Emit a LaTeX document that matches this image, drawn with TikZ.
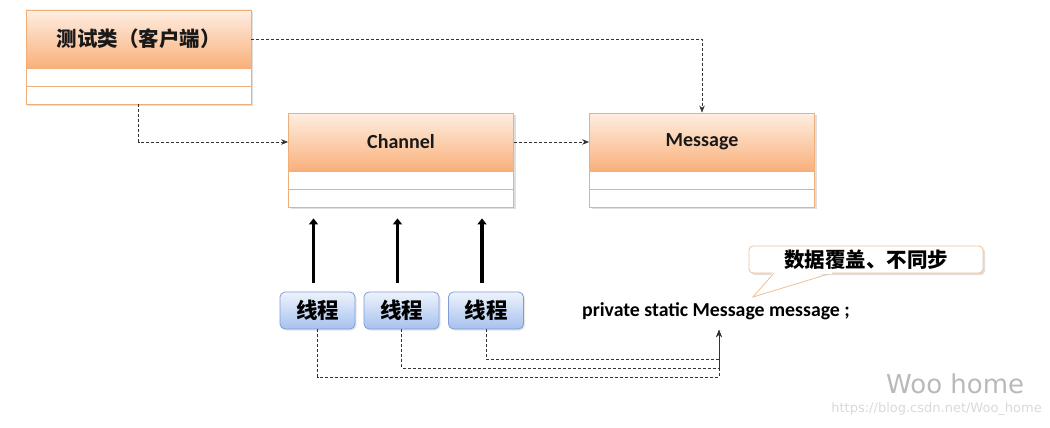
\documentclass[tikz,border=0pt]{standalone}
\usepackage{fontspec}
\setmainfont{Carlito}
\newfontfamily\cjk{Noto Sans CJK SC}
\newfontfamily\wm{DejaVu Sans}
\usetikzlibrary{arrows.meta,shadows,calc}
\definecolor{hdtop}{HTML}{FEEEE2}
\definecolor{hdbot}{HTML}{F9B07A}
\definecolor{orbd}{HTML}{F0AE78}
\definecolor{thtop}{HTML}{EEF3FC}
\definecolor{thbot}{HTML}{A6C1EE}
\definecolor{thbd}{HTML}{7E9DD6}
\tikzset{
  classbox/.style={draw=orbd, line width=0.8pt, fill=white, minimum width=225pt, inner sep=0pt,
    drop shadow={shadow xshift=2pt, shadow yshift=-2pt, opacity=0.25}},
  classhead/.style={draw=orbd, line width=0.8pt, top color=hdtop, bottom color=hdbot, minimum width=225pt,
    minimum height=58pt, inner sep=0pt, font=\bfseries\fontsize{20}{24}\selectfont, text=black!90},
  sep/.style={draw=orbd, line width=0.8pt},
  thread/.style={draw=thbd, line width=0.8pt, rounded corners=5pt, top color=thtop, bottom color=thbot,
    minimum width=75pt, minimum height=37pt, inner sep=0pt, font=\cjk\bfseries\fontsize{21.5}{24}\selectfont,
    drop shadow={shadow xshift=1.5pt, shadow yshift=-1.5pt, opacity=0.2}},
  dep/.style={densely dashed, line width=0.6pt, black!80, -{Stealth[length=7pt,width=5.5pt]}},
  bigarrow/.style={line width=3.5pt, black, -{Triangle[length=6pt,width=9pt]}},
  notebox/.style={draw=orbd!80, line width=0.8pt, fill=white, rounded corners=4pt,
    minimum width=234pt, minimum height=27pt, inner sep=0pt,
    drop shadow={shadow xshift=2pt, shadow yshift=-2pt, opacity=0.25},
    font=\cjk\bfseries\fontsize{20.5}{24}\selectfont},
  tail/.style={draw=orbd!80, line width=0.8pt},
}
\begin{document}
\begin{tikzpicture}[x=1pt,y=-1pt]
\useasboundingbox (0,0) rectangle (1050,428);
% Client class
\node[classbox, minimum height=94pt] (clientbox) at (138.5,57) {};
\node[classhead, anchor=north, font=\cjk\bfseries\fontsize{20.5}{24}\selectfont] (client) at (clientbox.north) {测试类（客户端）};
\draw[sep] (26,86) -- (251,86);
% Channel class
\node[classbox, minimum height=94pt] (channelbox) at (401,160) {};
\node[classhead, anchor=north] (channel) at (channelbox.north) {Channel};
\draw[sep] (288.5,189) -- (513.5,189);
% Message class
\node[classbox, minimum height=94pt] (messagebox) at (702,160) {};
\node[classhead, anchor=north] (message) at (messagebox.north) {Message};
\draw[sep] (589.5,189) -- (814.5,189);
% dependencies
\draw[dep] (client.east) -| (message.north);
\draw[dep] (clientbox.south) |- (channel.west);
\draw[dep] (channel.east) -- (message.west);
% threads
\node[thread] (t1) at (317.5,310.5) {线程};
\node[thread] (t2) at (401.5,310.5) {线程};
\node[thread] (t3) at (486,310.5) {线程};
\draw[bigarrow, shorten <=9pt, shorten >=11pt] ([xshift=-4pt]t1.north) -- ([xshift=-4pt]t1.north |- channelbox.south);
\draw[bigarrow, shorten <=9pt, shorten >=11pt] ([xshift=-4pt]t2.north) -- ([xshift=-4pt]t2.north |- channelbox.south);
\draw[bigarrow, shorten <=9pt, shorten >=11pt] ([xshift=-4pt]t3.north) -- ([xshift=-4pt]t3.north |- channelbox.south);
% field
\node[font=\bfseries\fontsize{19.8}{24}\selectfont, inner sep=0pt] (field) at (716,311) {private static Message message ;};
\coordinate (vtip) at (719,330);
\coordinate (j1) at (719,377);
\coordinate (j2) at (719,368);
\coordinate (j3) at (719,359);
\draw[dep] (t1.south) |- (j1) -- (vtip);
\draw[dep] (t2.south) |- (j2) -- (vtip);
\draw[dep] (t3.south) |- (j3) -- (vtip);
% callout
\node[notebox] (note) at (866,259.5) {数据覆盖、不同步};
\coordinate (ptip) at (753,297);
\fill[white] (774,271) -- (ptip) -- (832,271) -- cycle;
\draw[tail] (774,273) -- (ptip) -- (832,273);
\fill[white] (774.5,270) rectangle (831.5,274);
% watermark
\node[font=\wm\fontsize{26}{30}\selectfont, text=gray!55, anchor=west, inner sep=0pt] (wm) at (886,384) {Woo home};
\node[font=\wm\fontsize{13}{16}\selectfont, text=gray!30, anchor=east, inner sep=0pt] (url) at (1042,409) {https://blog.csdn.net/Woo\_home};
\end{tikzpicture}
\end{document}
